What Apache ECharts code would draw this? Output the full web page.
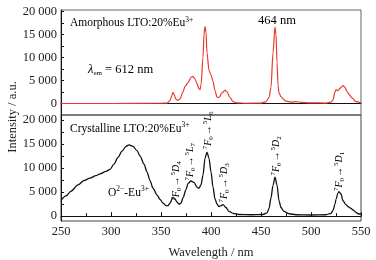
<!DOCTYPE html>
<html>
<head>
    <meta charset="utf-8">
    <title>LTO:Eu excitation</title>
    <script src="https://cdnjs.cloudflare.com/ajax/libs/echarts/6.0.0/echarts.min.js"></script>
    <style>
        html, body {margin: 0; padding: 0; background: #fff;}
    </style>
</head>
<body>
<div id="main" style="width: 376px;height: 260px"></div>

<script>
    // 非晶样品 (上图, 红线)
    let amorphousWl = [250, 300, 350, 356, 359, 361, 362, 363, 365, 367, 369, 372, 374, 377, 380, 382, 384, 386, 388, 389,
        390, 392, 393, 394, 395, 396, 398, 400, 402, 404, 406, 408, 411, 414, 416, 419, 422, 426, 435, 450,
        455, 458, 460, 462, 464, 465, 466, 467, 468, 470, 472, 475, 480, 485, 490, 500, 515, 520, 522, 524,
        525, 527, 529, 532, 534, 536, 538, 541, 545, 550];
    let amorphousI = [0, 0, 50, 100, 600, 1800, 2400, 2000, 900, 700, 1000, 2500, 3700, 4500, 5700, 5900, 5300, 4300, 3200, 3000,
        4000, 10000, 15000, 16700, 15500, 11000, 7200, 6200, 4800, 2800, 1400, 1300, 2300, 2900, 2500, 1300, 400, 150, 50, 100,
        400, 1300, 3500, 11000, 16600, 15000, 9000, 4000, 2300, 1500, 1000, 500, 300, 400, 250, 150, 100, 300, 800, 2500,
        3000, 2800, 3300, 3900, 3500, 2600, 2000, 1200, 400, 100];

    // 晶态样品 (下图, 黑线)
    let crystallineWl = [250, 255, 260, 267, 273, 279, 285, 289, 295, 299, 303, 307, 311, 315, 318, 322, 326, 329, 333, 336,
        339, 342, 346, 349, 352, 355, 357, 359, 361, 362, 364, 366, 368, 370, 372, 375, 377, 380, 383, 386,
        388, 390, 392, 394, 396, 398, 400, 402, 404, 406, 408, 410, 412, 415, 418, 422, 428, 440, 452, 456,
        458, 460, 462, 464, 466, 468, 470, 473, 478, 485, 500, 515, 520, 522, 524, 525, 527, 528, 530, 532,
        535, 537, 540, 542, 545, 547, 550];
    let crystallineI = [3260, 4200, 5200, 6500, 7400, 7900, 8400, 8800, 9300, 9700, 10800, 12200, 13500, 14500, 14800, 14500, 13600, 12500, 10800, 9200,
        7400, 5800, 4400, 3500, 2700, 2200, 2200, 2700, 3500, 3900, 3600, 2900, 2500, 2700, 3800, 5500, 6800, 7300, 7000, 6000,
        5800, 6500, 8500, 12000, 13300, 12000, 9200, 6000, 3600, 2500, 2000, 2200, 2400, 1800, 1000, 600, 350, 300, 350, 700,
        1600, 3800, 6400, 8100, 6500, 3200, 1800, 1000, 500, 300, 250, 300, 600, 1200, 2500, 3500, 4800, 5100, 4600, 3200,
        2400, 2000, 1600, 1300, 800, 500, 400];

    let xTicks = [250, 300, 350, 400, 450, 500, 550];
    let yLabels = [0, 5000, 10000, 15000, 20000];
    let yTicks = [0, 2500, 5000, 7500, 10000, 12500, 15000, 17500, 20000];

    // 标注: 文本, 波长, 强度, 所在子图, 是否竖排, 对齐
    let notes = [
        ['{H|Amorphous LTO:20%Eu}{S|3+}', 259, 17400, 0, false, 'left'],
        ['{I|λ}{sub|em}{T| = 612 nm}', 277, 7400, 0, false, 'left'],
        ['{T|464 nm}', 466, 17900, 0, false, 'center'],
        ['{H|Crystalline LTO:20%Eu}{S|3+}', 259, 18200, 1, false, 'left'],
        ['{H|O}{S|2−}{H|-Eu}{S|3+}', 297, 4900, 1, false, 'left'],
        ['{sup|7}{it|F}{sub|0}{t|→}{sup|5}{it|D}{sub|4}', 365, 7300, 1, true, 'center'],
        ['{sup|7}{it|F}{sub|0}{t|→}{sup|5}{it|L}{sub|7}', 379, 11300, 1, true, 'center'],
        ['{sup|7}{it|F}{sub|0}{t|→}{sup|5}{it|L}{sub|6}', 397, 17800, 1, true, 'center'],
        ['{sup|7}{it|F}{sub|0}{t|→}{sup|5}{it|D}{sub|3}', 413, 6900, 1, true, 'center'],
        ['{sup|7}{it|F}{sub|0}{t|→}{sup|5}{it|D}{sub|2}', 465, 12500, 1, true, 'center'],
        ['{sup|7}{it|F}{sub|0}{t|→}{sup|5}{it|D}{sub|1}', 528, 9300, 1, true, 'center']
    ];

    const font = '"Liberation Serif", "DejaVu Serif", serif';

    function pairs(xs, ys) {
        return xs.map(function (x, i) {
            return [x, ys[i]];
        });
    }

    function fmt(v) {
        return String(v).replace(/\B(?=(\d{3})+(?!\d))/g, ' ');
    }

    let richBase = {
        H: {fontFamily: font, fontSize: 11.5, color: '#222', lineHeight: 15},
        T: {fontFamily: font, fontSize: 12.5, color: '#222', lineHeight: 15},
        I: {fontFamily: font, fontSize: 12.5, fontStyle: 'italic', color: '#222', lineHeight: 15},
        S: {fontFamily: font, fontSize: 7.5, color: '#222', verticalAlign: 'top', lineHeight: 15},
        t: {fontFamily: font, fontSize: 10, color: '#222', lineHeight: 13, padding: [0, 1]},
        it: {fontFamily: font, fontSize: 10, fontStyle: 'italic', color: '#222', lineHeight: 13},
        sup: {fontFamily: font, fontSize: 7, color: '#222', verticalAlign: 'top', lineHeight: 13},
        sub: {fontFamily: font, fontSize: 7, color: '#222', verticalAlign: 'bottom', lineHeight: 13}
    };

    function xAxis(idx, showLabel) {
        return {
            type: 'value', gridIndex: idx, min: 250, max: 550, interval: 50,
            name: showLabel ? 'Wavelength / nm' : '',
            nameLocation: 'middle', nameGap: 25,
            nameTextStyle: {fontFamily: font, fontSize: 12.5, color: '#222'},
            axisLine: {lineStyle: {color: '#111', width: 1}},
            axisTick: {show: showLabel, inside: true, length: 4, lineStyle: {color: '#111'}},
            minorTick: {show: showLabel, splitNumber: 2, length: 3, lineStyle: {color: '#111'}},
            axisLabel: {
                show: showLabel, margin: 4, fontFamily: font, fontSize: 12.5, color: '#222',
                customValues: xTicks
            },
            splitLine: {show: false}
        };
    }

    function yAxis(idx, min, max) {
        return {
            type: 'value', gridIndex: idx, min: min, max: max,
            axisLine: {show: true, lineStyle: {color: '#111', width: 1}},
            axisTick: {inside: true, length: 3, customValues: yTicks, lineStyle: {color: '#111'}},
            axisLabel: {
                margin: 4, fontFamily: font, fontSize: 12.5, color: '#222',
                customValues: yLabels, formatter: fmt
            },
            splitLine: {show: false}
        };
    }

    let myChart = echarts.init(document.getElementById('main'), null, {renderer: 'canvas'});

    myChart.setOption({
        animation: false,
        backgroundColor: '#fff',
        grid: [
            {left: 61, right: 15, top: 10, height: 105, show: true, borderColor: '#666', borderWidth: 1},
            {left: 61, right: 15, top: 115, height: 109, show: true, borderColor: '#444', borderWidth: 1}
        ],
        xAxis: [xAxis(0, false), xAxis(1, true)],
        yAxis: [yAxis(0, -2500, 20300), yAxis(1, -1000, 21000)],
        series: [
            {
                type: 'line', xAxisIndex: 0, yAxisIndex: 0,
                data: pairs(amorphousWl, amorphousI),
                showSymbol: false, smooth: 0.3, smoothMonotone: 'x',
                lineStyle: {color: '#e8392f', width: 1.2}
            },
            {
                type: 'line', xAxisIndex: 1, yAxisIndex: 1,
                data: pairs(crystallineWl, crystallineI),
                showSymbol: false, smooth: 0.3, smoothMonotone: 'x',
                lineStyle: {color: '#111', width: 1.3}
            }
        ]
    });

    // 标注位置由坐标系换算
    let graphics = [{
        type: 'text', x: 13, y: 117, rotation: Math.PI / 2,
        style: {
            text: 'Intensity / a.u.', fontFamily: font, fontSize: 12.5, fill: '#222',
            align: 'center', verticalAlign: 'middle'
        }
    }];
    notes.forEach(function (n) {
        let p = myChart.convertToPixel({gridIndex: n[3]}, [n[1], n[2]]);
        graphics.push({
            type: 'text', x: p[0], y: p[1], rotation: n[4] ? Math.PI / 2 : 0,
            style: {
                text: n[0], rich: richBase,
                align: n[5], verticalAlign: 'middle'
            }
        });
    });
    myChart.setOption({graphic: graphics});
</script>

</body>
</html>
